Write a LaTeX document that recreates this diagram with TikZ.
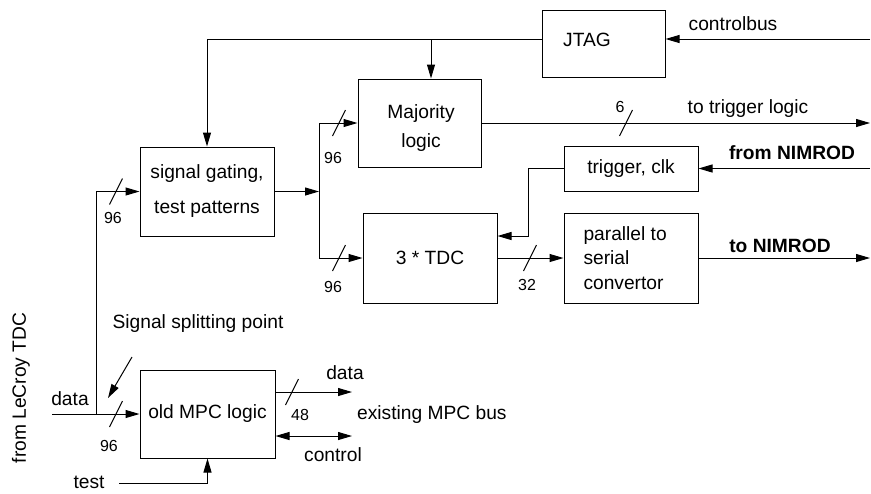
\documentclass[tikz,border=0pt]{standalone}
\usepackage{fontspec}
\setmainfont{Liberation Sans}
\usetikzlibrary{arrows.meta}
\tikzset{
  arr/.style={-{Triangle[length=7pt,width=4pt]}},
  box/.style={draw, inner sep=0pt, align=center},
  txt/.style={font=\fontsize{9.6}{12}\selectfont},
  num/.style={font=\fontsize{8}{9.6}\selectfont, inner sep=0pt}
}
\begin{document}
\begin{tikzpicture}[x=0.5pt, y=-0.5pt, line width=0.5pt, txt]
  \useasboundingbox (0,0) rectangle (871,493);
  % boxes
  \node[box, minimum width=61.5pt, minimum height=33.5pt] (jtag) at (603.5,43.5) {};
  \node (jtagtext) at (587,40) {JTAG};
  \node[box, minimum width=61.5pt, minimum height=44pt] (major) at (419.5,123) {};
  \node[align=center] (majortext) at (421,128) {Majority\\[2.5pt]logic};
  \node[box, minimum width=67pt, minimum height=44.5pt] (gating) at (207,191.5) {signal gating,\\[5.5pt]test patterns};
  \node[box, minimum width=67pt, minimum height=22.5pt] (trig) at (631,168.5) {trigger, clk};
  \node[box, minimum width=67pt, minimum height=45pt] (tdc) at (430,258) {3 * TDC};
  \node[box, minimum width=67pt, minimum height=45pt] (pts) at (631,258) {};
  \node[anchor=west, align=left, inner sep=0pt] (ptstext) at (583,258) {parallel to\\[0.3pt]serial\\[0.3pt]convertor};
  \node[box, minimum width=67.5pt, minimum height=44pt] (mpc) at (207.5,414) {old MPC logic};
  % free ends
  \coordinate (ctrlin) at (870,39);
  \coordinate (jbr) at (431,39);
  \coordinate (trigout) at (870,123);
  \coordinate (nimin) at (870,168.5);
  \coordinate (nimout) at (870,258);
  \coordinate (split) at (319,191.5);
  \coordinate (datain) at (52,414);
  \coordinate (tap) at (96,414);
  \coordinate (busdata) at (352,392);
  \coordinate (busctrl) at (352,436);
  \coordinate (testin) at (119,483);
  \coordinate (spA) at (132,357);
  \coordinate (spB) at (108,398);
  % lines
  \draw[arr] (ctrlin) -- (ctrlin -| jtag.east);
  \draw[arr] (jtag.west |- ctrlin) -| (gating.north);
  \draw[arr] (jbr) -- (jbr |- major.north);
  \draw[arr] (major.east) -- (trigout);
  \draw[arr] (nimin) -- (trig.east);
  \draw[arr] (trig.west) -- ++(-35,0) |- ([yshift=11pt]tdc.east);
  \draw[arr] (tdc.east) -- (pts.west);
  \draw[arr] (pts.east) -- (nimout);
  \draw[arr] (gating.east) -- (split);
  \draw[arr] (split) |- (major.west);
  \draw[arr] (split) |- (tdc.west);
  \draw[arr] (datain) -- (mpc.west);
  \draw[arr] (tap) |- (gating.west);
  \draw[arr] (mpc.east |- busdata) -- (busdata);
  \draw[{Triangle[length=7pt,width=4pt]}-{Triangle[length=7pt,width=4pt]}] (mpc.east |- busctrl) -- (busctrl);
  \draw[arr] (testin) -| (mpc.south);
  \draw[arr] (spA) -- (spB);
  % bus widths
  \foreach \x/\y in {116/191.5, 339/123, 339/258, 626/123, 530/258, 116/414, 292/392}
    \draw (\x+6.5,\y-13) -- (\x-6.5,\y+13);
  \node[num] (w1) at (113,218) {96};
  \node[num] (w2) at (333,158) {96};
  \node[num] (w3) at (333,287) {96};
  \node[num] (w4) at (620,107) {6};
  \node[num] (w5) at (527,285) {32};
  \node[num] (w6) at (109,446) {96};
  \node[num] (w7) at (300,415) {48};
  % labels
  \node (lcontrolbus) at (733,24) {controlbus};
  \node (ltrigger) at (748,109) {to trigger logic};
  \node[font=\fontsize{9.6}{12}\selectfont\bfseries] (lfromnim) at (792,153) {from NIMROD};
  \node[font=\fontsize{9.6}{12}\selectfont\bfseries] (ltonim) at (780,246) {to NIMROD};
  \node[rotate=90] (llecroy) at (21,388) {from LeCroy TDC};
  \node (ldatain) at (70,399) {data};
  \node (lsplit) at (198,324) {Signal splitting point};
  \node (ldataout) at (345,373) {data};
  \node[anchor=west] (lbus) at (350,415) {existing MPC bus};
  \node (lcontrol) at (333,455) {control};
  \node (ltest) at (89,482) {test};
\end{tikzpicture}
\end{document}
